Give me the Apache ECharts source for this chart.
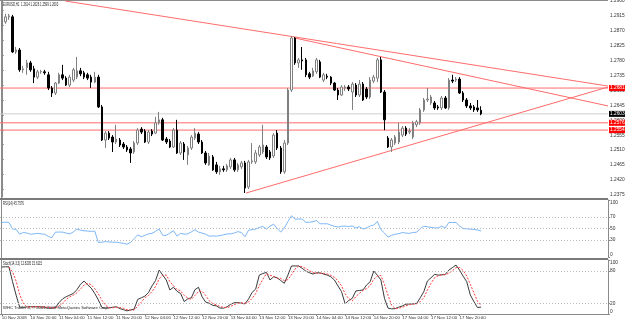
<!DOCTYPE html>
<html><head><meta charset="utf-8">
<script src="https://cdn.jsdelivr.net/npm/echarts@6/dist/echarts.min.js"></script>
<style>html,body{margin:0;padding:0;background:#fff}#c{width:625px;height:322px}</style>
</head><body><div id="c"></div>
<script>
// ---- data (EURUSD H1, 10 Nov 2008 12:00 .. 18 Nov 02:00) ----
const opens = [1.2865,1.2881,1.2896,1.2896,1.2790,1.2796,1.2736,1.2742,1.2757,1.2739,
1.2714,1.2730,1.2730,1.2721,1.2681,1.2666,1.2696,1.2721,1.2711,1.2690,
1.2705,1.2714,1.2733,1.2727,1.2721,1.2714,1.2699,1.2714,1.2624,1.2524,
1.2545,1.2533,1.2518,1.2524,1.2512,1.2503,1.2497,1.2488,1.2515,1.2557,
1.2551,1.2518,1.2551,1.2545,1.2576,1.2585,1.2527,1.2521,1.2503,1.2554,
1.2485,1.2512,1.2479,1.2500,1.2530,1.2542,1.2518,1.2485,1.2449,1.2473,
1.2449,1.2428,1.2437,1.2434,1.2443,1.2464,1.2434,1.2443,1.2455,1.2382,
1.2458,1.2458,1.2479,1.2488,1.2503,1.2488,1.2476,1.2545,1.2500,1.2428,
1.2515,1.2675,1.2832,1.2757,1.2766,1.2766,1.2724,1.2717,1.2730,1.2760,
1.2705,1.2717,1.2714,1.2696,1.2675,1.2660,1.2681,1.2684,1.2669,1.2690,
1.2660,1.2693,1.2678,1.2654,1.2702,1.2711,1.2766,1.2669,1.2530,1.2503,
1.2515,1.2518,1.2539,1.2560,1.2548,1.2533,1.2570,1.2576,1.2615,1.2645,
1.2636,1.2636,1.2624,1.2621,1.2651,1.2621,1.2705,1.2705,1.2708,1.2666,
1.2645,1.2627,1.2624,1.2621,1.2614];
const closes = [1.2887,1.2896,1.2899,1.2790,1.2796,1.2736,1.2739,1.2757,1.2736,1.2714,
1.2730,1.2731,1.2727,1.2681,1.2666,1.2696,1.2721,1.2711,1.2690,1.2714,
1.2736,1.2733,1.2724,1.2714,1.2711,1.2699,1.2714,1.2624,1.2524,1.2545,
1.2530,1.2518,1.2527,1.2509,1.2503,1.2494,1.2485,1.2515,1.2554,1.2548,
1.2518,1.2548,1.2542,1.2576,1.2585,1.2524,1.2518,1.2503,1.2554,1.2485,
1.2515,1.2488,1.2500,1.2533,1.2545,1.2518,1.2485,1.2455,1.2476,1.2434,
1.2428,1.2437,1.2434,1.2446,1.2464,1.2434,1.2449,1.2455,1.2379,1.2458,
1.2461,1.2485,1.2503,1.2509,1.2473,1.2470,1.2539,1.2500,1.2428,1.2515,
1.2675,1.2832,1.2757,1.2766,1.2763,1.2721,1.2714,1.2733,1.2766,1.2714,
1.2721,1.2714,1.2696,1.2675,1.2660,1.2684,1.2684,1.2678,1.2693,1.2660,
1.2693,1.2645,1.2654,1.2705,1.2714,1.2766,1.2669,1.2585,1.2503,1.2524,
1.2533,1.2548,1.2560,1.2542,1.2551,1.2576,1.2579,1.2615,1.2645,1.2648,
1.2654,1.2621,1.2621,1.2651,1.2621,1.2705,1.2702,1.2708,1.2666,1.2645,
1.2627,1.2621,1.2615,1.2615,1.2603];
const lows = [1.2856,1.2875,1.2887,1.2787,1.2784,1.2730,1.2727,1.2721,1.2730,1.2696,
1.2708,1.2724,1.2721,1.2675,1.2654,1.2660,1.2693,1.2705,1.2687,1.2684,
1.2699,1.2708,1.2717,1.2708,1.2705,1.2681,1.2696,1.2621,1.2521,1.2500,
1.2524,1.2488,1.2512,1.2503,1.2497,1.2488,1.2455,1.2482,1.2509,1.2542,
1.2515,1.2512,1.2536,1.2542,1.2570,1.2521,1.2512,1.2500,1.2500,1.2482,
1.2479,1.2464,1.2449,1.2494,1.2524,1.2512,1.2482,1.2449,1.2446,1.2431,
1.2422,1.2419,1.2428,1.2428,1.2437,1.2428,1.2428,1.2437,1.2364,1.2376,
1.2452,1.2452,1.2473,1.2482,1.2467,1.2464,1.2470,1.2494,1.2422,1.2422,
1.2509,1.2669,1.2751,1.2742,1.2736,1.2714,1.2708,1.2714,1.2724,1.2711,
1.2699,1.2708,1.2690,1.2672,1.2645,1.2657,1.2672,1.2672,1.2615,1.2654,
1.2654,1.2642,1.2648,1.2648,1.2696,1.2699,1.2666,1.2554,1.2500,1.2488,
1.2509,1.2512,1.2533,1.2536,1.2542,1.2527,1.2563,1.2570,1.2609,1.2639,
1.2630,1.2615,1.2615,1.2615,1.2618,1.2615,1.2696,1.2699,1.2663,1.2639,
1.2621,1.2615,1.2609,1.2609,1.2599];
const highs = [1.2908,1.2905,1.2905,1.2902,1.2805,1.2802,1.2748,1.2766,1.2763,1.2748,
1.2736,1.2736,1.2736,1.2730,1.2687,1.2699,1.2727,1.2751,1.2717,1.2721,
1.2742,1.2775,1.2742,1.2733,1.2727,1.2721,1.2730,1.2721,1.2630,1.2551,
1.2551,1.2539,1.2570,1.2530,1.2518,1.2509,1.2503,1.2521,1.2560,1.2563,
1.2557,1.2554,1.2557,1.2594,1.2609,1.2591,1.2533,1.2527,1.2560,1.2585,
1.2521,1.2518,1.2506,1.2539,1.2560,1.2548,1.2524,1.2491,1.2485,1.2479,
1.2458,1.2446,1.2446,1.2452,1.2470,1.2470,1.2455,1.2461,1.2461,1.2464,
1.2515,1.2494,1.2509,1.2570,1.2509,1.2494,1.2545,1.2554,1.2506,1.2524,
1.2681,1.2838,1.2835,1.2772,1.2805,1.2772,1.2730,1.2742,1.2772,1.2766,
1.2727,1.2724,1.2717,1.2699,1.2681,1.2690,1.2690,1.2690,1.2699,1.2696,
1.2705,1.2699,1.2684,1.2714,1.2721,1.2772,1.2775,1.2675,1.2536,1.2530,
1.2539,1.2576,1.2566,1.2566,1.2560,1.2582,1.2585,1.2621,1.2651,1.2681,
1.2660,1.2642,1.2630,1.2657,1.2657,1.2711,1.2721,1.2714,1.2714,1.2672,
1.2651,1.2636,1.2630,1.2645,1.2626];

const rsi = [60.6,61,60.8,49,48.6,40,43,42,40,40.5,
41.5,40.5,40,36,34,43.6,43.8,43.6,42,40.5,
44,49,47,46,45.5,45,45.5,25.4,26,27,
26.5,26,26,25,24,22.5,25.4,32,39,35.5,
38,40.5,41.5,45,49,38,38,42,46,36.6,
41.5,40,40.5,44,48,43.6,42,40,36.6,37,
36.6,37.6,39,40.5,40.5,42,44.5,43,35.5,47,
48,49,52,53.5,49,54,57.7,50,43.6,51,
62,72.4,66.5,66.5,66.5,61,60.8,62,64,58.3,
58.3,58.3,56,54,52.5,54,54.2,53.5,54.5,51,
53,49,51,54.5,56,62.4,48,42,35,38,
40,41,43,42,41.5,43,43.5,50,54,53,
52,51,51,54,51,60.6,60.5,60.6,54.5,50,
49.4,48.8,48.5,47.5,45.76];

const stochMain = [87,87.4,87.4,60,35,12.6,12.6,13,13.4,13.4,
13.4,13,12.6,11,10.8,12,21,28,32,35,
38,45,55,61,54,48,38,26,12,10.8,
11.5,12.5,13.4,10,8,5.8,7.5,9,27,30,
33,39.5,52,62,81.3,72,63,44.5,49.5,42,
38,23,28,30,45,49.5,32,22,20,16,
15,11,10.8,13.4,18,21,21,20,18.7,28,
40,46.3,72,75,77,63,69,67,62,56.8,
72,89,89,89,84.5,79.5,76.4,74,76.4,76,
74,72,69,63,52,41.4,18.7,25,29,42.7,
43.5,44.5,53.7,59.8,79.5,72,63,29,10.8,9.5,
10,12.6,15,18.2,18.5,18.7,19.5,30,41.4,61,
67,73.4,72,72.5,73.4,81.3,86,90.6,81.3,70,
59.8,35.3,23,12,12.82];

const stochSignal = [null,null,87,78,61,36,20,13,13,13.3,
13.4,13.3,13,12.2,11.5,11.3,14.6,20,27,31.7,
35,39.3,46,53.7,56.7,54.3,46.7,37.3,25.3,16.3,
11.4,11.6,12.5,12,10.5,7.9,7.1,7.4,14.5,22,
30,34.2,41.5,51.2,65,71.8,72.1,60,52.3,45.3,
43.2,34.3,29.7,27,34.3,41.5,42.2,34.5,24.7,19.3,
17,14,12.3,11.7,14,17.5,20,20.7,19.9,22.2,
28.9,38.1,52.8,64.4,74.7,71.7,69.7,66.3,66,61.9,
63.6,72.6,83.3,89,87.5,84.3,80.1,76.6,75.6,75.5,
75.5,74,71.7,68,61.3,52.1,37.4,28.4,24.2,32.2,
38.4,43.6,47.2,52.7,64.3,70.4,71.5,54.7,34.3,16.4,
10.1,10.7,12.5,15.3,17.2,18.5,18.9,22.7,30.3,44.1,
56.5,67.1,70.8,72.6,72.6,75.7,80.2,86,86,80.6,
70.4,55,39.4,23.4,15.61];

const xTickLabels = ['10 Nov 2008','10 Nov 20:00','11 Nov 04:00','11 Nov 12:00','11 Nov 20:00',
'12 Nov 04:00','12 Nov 12:00','12 Nov 20:00','13 Nov 04:00','13 Nov 12:00','13 Nov 20:00',
'14 Nov 04:00','14 Nov 12:00','14 Nov 20:00','17 Nov 04:00','17 Nov 12:00','17 Nov 20:00'];
const priceTicks = [1.2375,1.2420,1.2465,1.2510,1.2555,1.2600,1.2645,1.2690,1.2735,1.2780,1.2825,1.2870,1.2915,1.2960];
const rsiTicks = [0,30,50,70,100];
const rsiLevels = [30,50,70];
const stochTicks = [0,20,80,100];
const stochLevels = [20,80];
const horizLines = [1.2681,1.2576,1.2554];
const bidPrice = 1.2603;
// trend lines: [bar index, price] end points
const trendTop = [[17.7,1.2944],[169.5,1.2687]];
const trendMid = [[82.0,1.2832],[169.5,1.2627]];
const trendLow = [[68.3,1.2364],[169.5,1.2684]];
const headerText = 'EURUSD,H1  1.2614 1.2626 1.2599 1.2603';
const rsiText = 'RSI(14) 45.7576';
const stochText = 'Stoch(14,3,3) 12.8205 15.6115';
const copyText = 'WHC Trader 4, \u00a9 2001-2008 MetaQuotes Software Corp.';

// ---- chart ----
const NCAT = 170;
const X0 = -0.5, X1 = NCAT - 0.5;
const FONT = 'Liberation Sans';
const cats = Array.from({length: NCAT}, (_, i) => String(i));
const candles = opens.map((o, i) => [o, closes[i], lows[i], highs[i]]);
const labelIdx = (i) => i % 8 === 0 && i / 8 < xTickLabels.length;
const RED = '#ff6b6b';
const lvl = {color: '#bdbdbd', type: [1, 2], width: 1};

function levelSeries(v, lineColor, bg) {
  return {type: 'line', xAxisIndex: 1, yAxisIndex: 0, data: [[X0, v], [X1, v]], symbol: 'none', silent: true,
    z: 2, lineStyle: {color: lineColor, width: 1},
    endLabel: {show: true, formatter: () => v.toFixed(4), distance: 1, backgroundColor: bg, color: '#fff',
      fontSize: 4.8, fontFamily: FONT, padding: [1, 1, 0, 1]}};
}
function trend(data) {
  return {type: 'line', xAxisIndex: 1, yAxisIndex: 0, data: data, symbol: 'none', silent: true,
    lineStyle: {color: RED, width: 1}, z: 3};
}
function rightAxis(grid, min, max, ticks) {
  return {type: 'value', gridIndex: grid, position: 'right', min: min, max: max,
    splitLine: {show: false},
    axisLine: {show: true, lineStyle: {color: '#8a8a8a'}},
    axisTick: {show: true, length: 2, customValues: ticks, lineStyle: {color: '#8a8a8a'}},
    axisLabel: {customValues: ticks, hideOverlap: false, showMinLabel: true, showMaxLabel: true,
      fontSize: 4.8, color: '#333', margin: 2, fontFamily: FONT}};
}
function oscAxis(grid, ticks) {
  const a = rightAxis(grid, 0, 100, ticks);
  a.axisLabel.verticalAlignMinLabel = 'bottom';
  a.axisLabel.verticalAlignMaxLabel = 'top';
  return a;
}

const chart = echarts.init(document.getElementById('c'), null, {renderer: 'canvas'});
const mainY = rightAxis(0, 1.2352, 1.2962, priceTicks);
mainY.axisLabel.formatter = (v) => v.toFixed(4);
mainY.axisLabel.verticalAlign = 'top';
mainY.axisLabel.padding = [3, 0, 0, 0];

chart.setOption({
  animation: false,
  backgroundColor: '#ffffff',
  grid: [
    {left: 0, right: 17, top: -5, height: 202, outerBoundsMode: 'none', containLabel: false},
    {left: 0, right: 17, top: 200, height: 57, outerBoundsMode: 'none', containLabel: false},
    {left: 0, right: 17, top: 260, height: 54, outerBoundsMode: 'none', containLabel: false}
  ],
  xAxis: [
    {type: 'category', gridIndex: 0, data: cats, show: false},
    {type: 'value', gridIndex: 0, min: X0, max: X1, show: false},
    {type: 'category', gridIndex: 1, data: cats, show: false},
    {type: 'category', gridIndex: 2, data: cats,
      axisLine: {show: true, lineStyle: {color: '#8a8a8a'}},
      axisTick: {show: true, interval: labelIdx, alignWithLabel: true, length: 2, lineStyle: {color: '#8a8a8a'}},
      axisLabel: {interval: labelIdx, formatter: (v, i) => xTickLabels[i / 8], align: 'left',
        fontSize: 4.4, color: '#333', margin: 2, fontFamily: FONT}}
  ],
  yAxis: [
    mainY,
    oscAxis(1, rsiTicks),
    oscAxis(2, stochTicks)
  ],
  series: [
    levelSeries(horizLines[0], RED, '#ff0000'),
    levelSeries(horizLines[1], RED, '#ff0000'),
    levelSeries(horizLines[2], RED, '#ff0000'),
    levelSeries(bidPrice, '#cfcfcf', '#000000'),
    {type: 'candlestick', xAxisIndex: 0, yAxisIndex: 0, data: candles, barWidth: 2, z: 4,
      itemStyle: {color: '#ffffff', color0: '#000000', borderColor: '#808080', borderColor0: '#000000', borderWidth: 1}},
    trend(trendTop), trend(trendMid), trend(trendLow),
    {type: 'line', xAxisIndex: 2, yAxisIndex: 1, data: rsi, symbol: 'none', silent: true,
      lineStyle: {color: '#7db7f5', width: 1},
      markLine: {symbol: 'none', silent: true, label: {show: false}, lineStyle: lvl,
        data: rsiLevels.map(v => ({yAxis: v}))}},
    {type: 'line', xAxisIndex: 3, yAxisIndex: 2, data: stochMain, symbol: 'none', silent: true,
      lineStyle: {color: '#3a3a3a', width: 1},
      markLine: {symbol: 'none', silent: true, label: {show: false}, lineStyle: lvl,
        data: stochLevels.map(v => ({yAxis: v}))}},
    {type: 'line', xAxisIndex: 3, yAxisIndex: 2, data: stochSignal, symbol: 'none', silent: true,
      lineStyle: {color: '#ff3b3b', width: 1, type: [2, 1.5]}}
  ],
  graphic: [
    {type: 'rect', shape: {x: 0, y: 0, width: 608, height: 1}, style: {fill: '#8a8a8a'}, silent: true},
    {type: 'rect', shape: {x: 1, y: 0, width: 1, height: 314}, style: {fill: '#8a8a8a'}, silent: true},
    {type: 'rect', shape: {x: 0, y: 198, width: 608, height: 2}, style: {fill: '#7a7a7a'}, silent: true},
    {type: 'rect', shape: {x: 0, y: 258, width: 608, height: 2}, style: {fill: '#7a7a7a'}, silent: true},
    {type: 'text', x: 3, y: 2, scaleX: 0.62, style: {text: headerText, font: '4.6px "Liberation Sans"', fill: '#222'}},
    {type: 'text', x: 3, y: 201, scaleX: 0.62, style: {text: rsiText, font: '4.6px "Liberation Sans"', fill: '#222'}},
    {type: 'text', x: 3, y: 261, scaleX: 0.62, style: {text: stochText, font: '4.6px "Liberation Sans"', fill: '#222'}},
    {type: 'text', x: 3, y: 306, scaleX: 0.95, style: {text: copyText, font: '4.4px "Liberation Sans"', fill: '#222'}}
  ]
});
</script>
</body></html>
